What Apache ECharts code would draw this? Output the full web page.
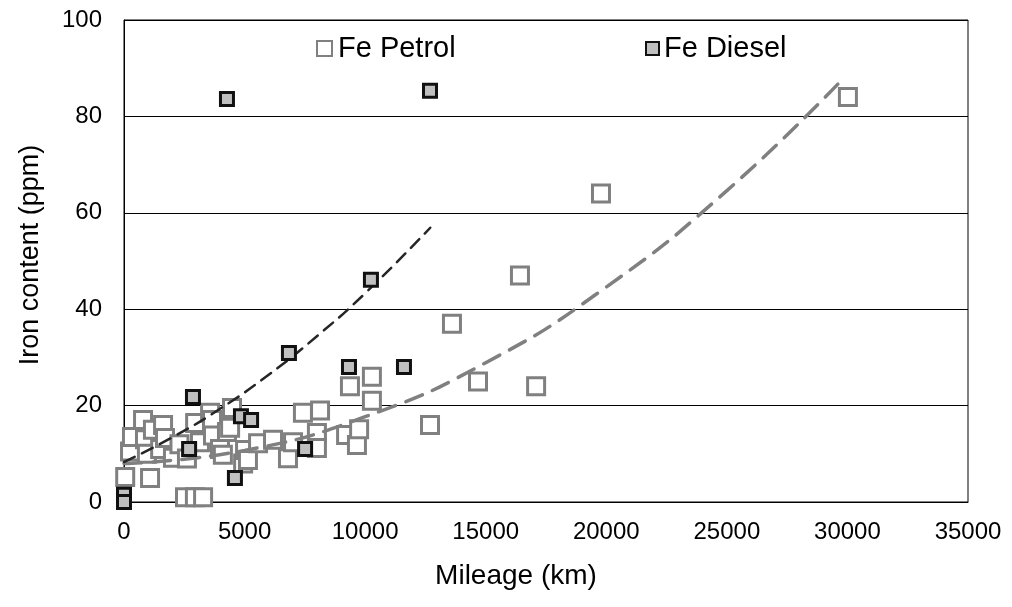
<!DOCTYPE html>
<html>
<head>
<meta charset="utf-8">
<script src="https://cdn.jsdelivr.net/npm/echarts@6/dist/echarts.min.js"></script>
<style>
html,body{margin:0;padding:0;background:#fff;}
#c{width:1012px;height:607px;}
</style>
</head>
<body>
<div id="c"></div>
<script>
// ---- data ----
const xTicks = [0, 5000, 10000, 15000, 20000, 25000, 30000, 35000];
const yTicks = [0, 20, 40, 60, 80, 100];

const petrolMileage = [50, 1080, 250, 330, 790, 870, 950, 1200, 1500, 1620, 1700, 2030, 2300, 2610, 2530, 2940, 3280, 2950, 3150, 3570, 3650, 3690, 3980, 4100, 4270, 4400, 4480, 4940, 5020, 5140, 5560, 6180, 6800, 7010, 7420, 8000, 8000, 8130, 9210, 9660, 9750, 9370, 10280, 10280, 12690, 13600, 14680, 16420, 17090, 19780, 30020];
const petrolIron    = [5.2, 5, 10.5, 13.5, 17, 13, 10, 15, 11, 16, 13.3, 9.2, 12, 9, 1, 1, 1, 16.4, 12.4, 18.5, 17, 13.8, 11, 9.8, 14.5, 15.4, 19.5, 8, 10.8, 8.7, 12.2, 12.9, 9.1, 12.4, 18.5, 14.3, 11.2, 19, 13.9, 11.8, 15.1, 24, 26, 21, 16, 37, 25, 47, 24, 64, 84];

const dieselMileage = [4270, 12690, 10240, 6840, 9330, 11610, 2860, 4850, 5270, 2700, 7510, 4600, 0, 0];
const dieselIron    = [83.6, 85.3, 46.1, 30.9, 28, 28, 21.8, 17.8, 17, 11, 11, 5, 1.5, 0];

// dashed trend curves
const petrolTrendMileage = [0, 5000, 10000, 15000, 20000, 25000, 29700];
const petrolTrendIron    = [8, 10.7, 17.7, 28.9, 44.6, 64.6, 87.2];
const dieselTrendMileage = [0, 2000, 4000, 6000, 8000, 10000, 12700];
const dieselTrendIron    = [8.3, 13.4, 19.4, 26.4, 34.4, 43.3, 56.9];

const seriesNames = ['Fe Petrol', 'Fe Diesel'];

const zip = (a, b) => a.map((v, i) => [v, b[i]]);
const FONT = "'Liberation Sans', Arial, sans-serif";

const chart = echarts.init(document.getElementById('c'), null, {renderer: 'canvas'});
chart.setOption({
  animation: false,
  backgroundColor: '#fff',
  grid: {left: 124, right: 44, top: 20, bottom: 105, show: true, borderColor: '#000', borderWidth: 1, backgroundColor: 'transparent'},
  legend: [
    {data: [seriesNames[0]], left: 311, top: 29, itemWidth: 15, itemHeight: 15, itemGap: 0,
     textStyle: {fontFamily: FONT, fontSize: 29, color: '#000', padding: [0, 0, 0, 1]}},
    {data: [seriesNames[1]], left: 640, top: 29, itemWidth: 13, itemHeight: 13, itemGap: 0,
     textStyle: {fontFamily: FONT, fontSize: 29, color: '#000', padding: [0, 0, 0, 0]}}
  ],
  xAxis: {
    type: 'value', min: xTicks[0], max: xTicks[xTicks.length - 1], interval: xTicks[1] - xTicks[0],
    name: 'Mileage (km)', nameLocation: 'middle', nameGap: 60,
    nameTextStyle: {fontFamily: FONT, fontSize: 28, color: '#000', padding: [0, 60, 0, 0]},
    axisLine: {show: true, onZero: false, lineStyle: {color: '#000', width: 1}},
    axisTick: {show: false},
    axisLabel: {fontFamily: FONT, fontSize: 24, color: '#000', margin: 18, formatter: v => String(v)},
    splitLine: {show: false}
  },
  yAxis: {
    type: 'value', min: yTicks[0], max: yTicks[yTicks.length - 1], interval: yTicks[1] - yTicks[0],
    name: 'Iron content (ppm)', nameLocation: 'middle', nameGap: 80,
    nameTextStyle: {fontFamily: FONT, fontSize: 27, color: '#000', padding: [0, 0, 0, 12]},
    axisLine: {show: true, lineStyle: {color: '#000', width: 1}},
    axisTick: {show: false},
    axisLabel: {fontFamily: FONT, fontSize: 24, color: '#000', margin: 22},
    splitLine: {show: true, lineStyle: {color: '#000', width: 1}}
  },
  series: [
    {
      name: seriesNames[0], type: 'scatter', symbol: 'rect', symbolSize: 17, z: 2,
      itemStyle: {color: '#fff', borderColor: '#808080', borderWidth: 3, opacity: 1},
      data: zip(petrolMileage, petrolIron)
    },
    {
      name: 'petrolTrend', type: 'line', smooth: true, symbol: 'none', z: 3,
      lineStyle: {color: '#808080', width: 3.5, type: [18, 11], cap: 'round'},
      data: zip(petrolTrendMileage, petrolTrendIron)
    },
    {
      name: 'dieselTrend', type: 'line', smooth: true, symbol: 'none', z: 3,
      lineStyle: {color: '#262626', width: 2.5, type: [12, 8], cap: 'round'},
      data: zip(dieselTrendMileage, dieselTrendIron)
    },
    {
      name: seriesNames[1], type: 'scatter', symbol: 'rect', symbolSize: 13, z: 4,
      itemStyle: {color: '#c0c0c0', borderColor: '#111', borderWidth: 3, opacity: 1},
      data: zip(dieselMileage, dieselIron)
    }
  ]
});
</script>
</body>
</html>
